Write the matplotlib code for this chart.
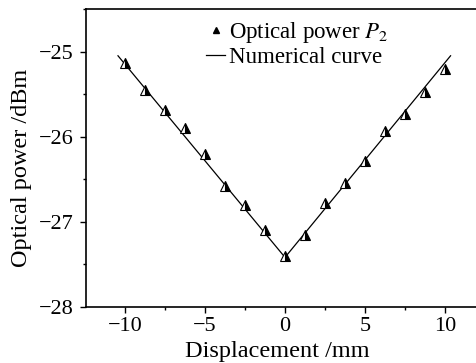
import matplotlib
matplotlib.use("Agg")
import matplotlib.pyplot as plt
from matplotlib.lines import Line2D
from matplotlib.ticker import MultipleLocator

# measured points
disp = [-10, -8.75, -7.5, -6.25, -5, -3.75, -2.5, -1.25, 0,
        1.25, 2.5, 3.75, 5, 6.25, 7.5, 8.75, 10]
power = [-25.14, -25.45, -25.69, -25.90, -26.20, -26.58, -26.80, -27.10, -27.40,
         -27.16, -26.78, -26.55, -26.29, -25.94, -25.74, -25.47, -25.20]

# numerical curve
curve_x = [-10.44, 0, 10.35]
curve_y = [-25.05, -27.42, -25.05]

xticks = [-10, -5, 0, 5, 10]
yticks = [-28, -27, -26, -25]


def main():
    plt.rcParams["font.family"] = ["Liberation Serif", "DejaVu Serif"]
    plt.rcParams["mathtext.fontset"] = "stix"

    fig = plt.figure(figsize=(4.77, 3.63), dpi=100)
    ax = fig.add_axes([86 / 477, 1 - 306.7 / 363, (484 - 86) / 477, (306.7 - 9) / 363])

    ax.plot(curve_x, curve_y, color="black", lw=0.9)
    ax.plot(disp, power, ls="none", marker="^", markersize=7.5, fillstyle="right",
            markerfacecolor="black", markerfacecoloralt="white",
            markeredgecolor="black", markeredgewidth=0.8)

    ax.set_xlim(-12.44, 12.44)
    ax.set_ylim(-28, -24.5)
    ax.set_xticks(xticks)
    ax.set_yticks(yticks)
    ax.set_xticklabels([str(t).replace("-", "\u2212") for t in xticks])
    ax.set_yticklabels([str(t).replace("-", "\u2212") for t in yticks])
    ax.xaxis.set_minor_locator(MultipleLocator(2.5))
    ax.yaxis.set_minor_locator(MultipleLocator(0.5))
    ax.tick_params(which="major", direction="out", length=4, width=1, labelsize=16)
    ax.tick_params(axis="x", which="major", pad=3.5)
    ax.tick_params(axis="y", which="major", pad=5)
    ax.tick_params(which="minor", direction="out", length=2.5, width=1)
    ax.tick_params(top=False, right=False)
    for s in ax.spines.values():
        s.set_linewidth(1.2)

    ax.set_xlabel("Displacement /mm", fontsize=17.5, labelpad=3.5, x=0.48)
    ax.set_ylabel("Optical power /dBm", fontsize=17.5, labelpad=5, y=0.466)

    handles = [
        Line2D([], [], ls="none", marker="^", markersize=5, color="black"),
        Line2D([], [], color="black", lw=0.9),
    ]
    fig.legend(handles, ["Optical power $P_2$", "Numerical curve"],
               loc="upper left", bbox_to_anchor=(206 / 477, 1 - 20 / 363),
               frameon=False, fontsize=16.5, handlelength=0.85, handletextpad=0.15,
               labelspacing=0.1, borderpad=0, borderaxespad=0)

    fig.savefig("out.png", dpi=100)


if __name__ == "__main__":
    main()
